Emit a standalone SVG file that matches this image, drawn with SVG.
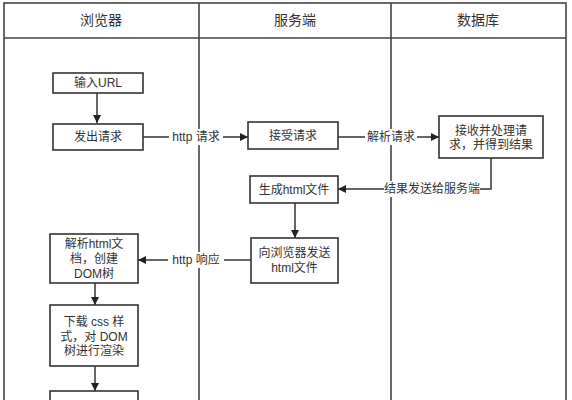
<svg xmlns="http://www.w3.org/2000/svg" width="572" height="400" viewBox="0 0 572 400">
<style>
.frame{fill:none;stroke:#444;stroke-width:1.6}
.box{fill:#fff;stroke:#333;stroke-width:1.6}
.t{font-family:"Liberation Sans","Noto Sans CJK SC",sans-serif;font-size:12px;fill:#333;text-anchor:middle;dominant-baseline:central}
.h{font-size:14px}
.ln{fill:none;stroke:#333;stroke-width:1.5}
.bg{fill:#fff}
</style>
<defs>
<marker id="ah" viewBox="0 0 10 10" refX="10" refY="5" markerWidth="8" markerHeight="8" markerUnits="userSpaceOnUse" orient="auto">
<path d="M0,0 L10,5 L0,10 z" fill="#222"/>
</marker>
</defs>
<rect width="572" height="400" fill="#fff"/>
<g id="lanes">
<rect class="frame" x="4" y="3" width="562" height="430"/>
<line class="frame" x1="4" y1="38" x2="566" y2="38"/>
<line class="frame" x1="199" y1="3" x2="199" y2="433"/>
<line class="frame" x1="391" y1="3" x2="391" y2="433"/>
<text class="t h" x="101" y="20">浏览器</text>
<text class="t h" x="295" y="20">服务端</text>
<text class="t h" x="478" y="20">数据库</text>
</g>
<g id="connectors">
<line class="ln" x1="97" y1="93" x2="97" y2="123" marker-end="url(#ah)"/>
<line class="ln" x1="143" y1="137" x2="248" y2="137" marker-end="url(#ah)"/>
<rect class="bg" x="169" y="129" width="54" height="16"/>
<text class="t" x="196" y="137">http 请求</text>
<line class="ln" x1="338" y1="137" x2="439" y2="137" marker-end="url(#ah)"/>
<rect class="bg" x="365" y="129" width="52" height="16"/>
<text class="t" x="391" y="137">解析请求</text>
<polyline class="ln" points="491,158 491,189 338,189" marker-end="url(#ah)"/>
<rect class="bg" x="384" y="181" width="96" height="16"/>
<text class="t" x="432" y="189">结果发送给服务端</text>
<line class="ln" x1="295" y1="203" x2="295" y2="238" marker-end="url(#ah)"/>
<line class="ln" x1="251" y1="260" x2="138" y2="260" marker-end="url(#ah)"/>
<rect class="bg" x="168" y="252" width="56" height="16"/>
<text class="t" x="196" y="260">http 响应</text>
<line class="ln" x1="95" y1="283" x2="95" y2="305" marker-end="url(#ah)"/>
<line class="ln" x1="95" y1="366" x2="95" y2="391" marker-end="url(#ah)"/>
</g>
<g id="n1"><rect class="box" x="53" y="73" width="90" height="20"/><text class="t" x="98" y="83">输入URL</text></g>
<g id="n2"><rect class="box" x="53" y="124" width="90" height="26"/><text class="t" x="98" y="137">发出请求</text></g>
<g id="n3"><rect class="box" x="248" y="122" width="90" height="27"/><text class="t" x="293" y="135.5">接受请求</text></g>
<g id="n4"><rect class="box" x="439" y="116" width="104" height="42"/><text class="t" x="491" y="131">接收并处理请</text><text class="t" x="491" y="145">求，并得到结果</text></g>
<g id="n5"><rect class="box" x="250" y="176" width="88" height="27"/><text class="t" x="294" y="189.5">生成html文件</text></g>
<g id="n6"><rect class="box" x="251" y="238" width="87" height="45"/><text class="t" x="294.5" y="253">向浏览器发送</text><text class="t" x="294.5" y="268">html文件</text></g>
<g id="n7"><rect class="box" x="50" y="234" width="88" height="49"/><text class="t" x="94" y="244">解析html文</text><text class="t" x="94" y="259">档，创建</text><text class="t" x="94" y="274">DOM树</text></g>
<g id="n8"><rect class="box" x="50" y="305" width="88" height="61"/><text class="t" x="94" y="322">下载 css 样</text><text class="t" x="94" y="336.5">式，对 DOM</text><text class="t" x="94" y="351">树进行渲染</text></g>
<g id="n9"><rect class="box" x="50" y="391" width="88" height="30"/></g>
</svg>
